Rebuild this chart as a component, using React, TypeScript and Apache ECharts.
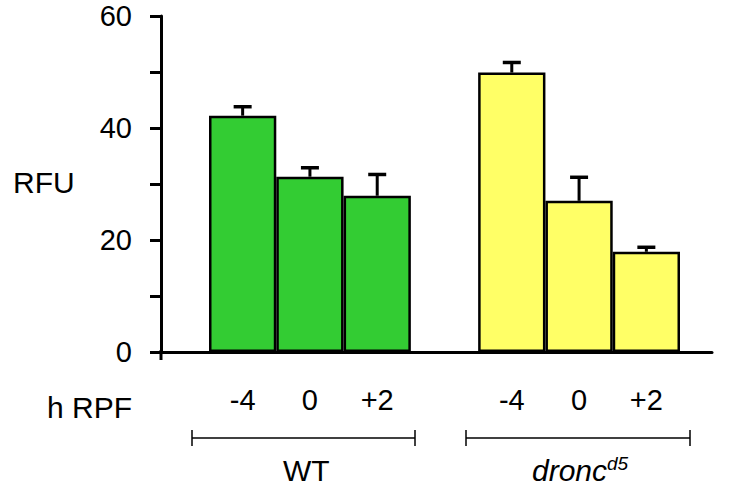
import React, { useEffect, useRef } from "react";
import * as echarts from "echarts";

const categories = ["-4", "0", "+2", "", "-4", "0", "+2"];
const rfuValues: (number | null)[] = [42.2, 31.3, 27.9, null, 49.9, 27.0, 17.9];
const errValues: (number | null)[] = [1.6, 1.6, 3.8, null, 1.8, 4.2, 0.8];
const groupOfBar = [0, 0, 0, -1, 1, 1, 1];
const groupColors = ["#33CC33", "#FFFF66"];
const yTicks = [0, 20, 40, 60];

const FONT = "'Liberation Sans', Arial, Helvetica, sans-serif";

export default function App() {
  const ref = useRef<HTMLDivElement>(null);

  useEffect(() => {
    if (!ref.current) return;
    const chart = echarts.init(ref.current, null, { renderer: "svg" });

    const barData = rfuValues.map((v, i) =>
      v == null
        ? "-"
        : {
            value: v,
            itemStyle: { color: groupColors[groupOfBar[i]] },
          }
    );
    const errData = rfuValues.map((v, i) =>
      v == null || errValues[i] == null ? [i, "-", "-"] : [i, v, v + (errValues[i] as number)]
    );

    const option: any = {
      animation: false,
      backgroundColor: "#ffffff",
      grid: [
        { left: 209, right: 50, top: 16, bottom: 141 },
        { left: 161, right: 18, top: 16, bottom: 141 },
      ],
      xAxis: [
        {
          type: "category",
          gridIndex: 0,
          data: categories,
          axisLine: { show: false },
          axisTick: { show: false },
          axisLabel: {
            show: true,
            margin: 33,
            fontSize: 29,
            color: "#000",
            fontFamily: FONT,
          },
        },
        {
          type: "value",
          gridIndex: 1,
          min: 0,
          max: 1,
          axisLine: { show: true, lineStyle: { color: "#000", width: 3 } },
          axisTick: { show: false },
          axisLabel: { show: false },
          splitLine: { show: false },
        },
      ],
      yAxis: [
        {
          type: "value",
          gridIndex: 0,
          min: 0,
          max: 60,
          interval: 10,
          offset: 48,
          axisLine: { show: true, lineStyle: { color: "#000", width: 3 } },
          axisTick: { show: true, length: 11, lineStyle: { color: "#000", width: 3 } },
          axisLabel: {
            margin: 29,
            fontSize: 29,
            color: "#000",
            fontFamily: FONT,
            formatter: (v: number) => (yTicks.includes(v) ? String(v) : ""),
          },
          splitLine: { show: false },
        },
        {
          type: "value",
          gridIndex: 1,
          min: 0,
          max: 1,
          show: false,
        },
      ],
      series: [
        {
          type: "bar",
          xAxisIndex: 0,
          yAxisIndex: 0,
          data: barData,
          barCategoryGap: 0,
          barWidth: "100%",
          itemStyle: { borderColor: "#000", borderWidth: 2.5 },
          z: 2,
        },
        {
          type: "custom",
          xAxisIndex: 0,
          yAxisIndex: 0,
          data: errData,
          z: 1,
          renderItem: (params: any, api: any) => {
            const v = api.value(1);
            const top = api.value(2);
            if (isNaN(v) || isNaN(top)) return null;
            const base = api.coord([api.value(0), v]);
            const hi = api.coord([api.value(0), top]);
            const half = 9;
            return {
              type: "group",
              children: [
                {
                  type: "line",
                  shape: { x1: base[0], y1: base[1], x2: hi[0], y2: hi[1] },
                  style: { stroke: "#000", lineWidth: 3 },
                },
                {
                  type: "line",
                  shape: { x1: hi[0] - half, y1: hi[1], x2: hi[0] + half, y2: hi[1] },
                  style: { stroke: "#000", lineWidth: 3.5 },
                },
              ],
            };
          },
        },
      ],
      graphic: [
        {
          type: "line",
          shape: { x1: 161, y1: 350, x2: 161, y2: 360 },
          style: { stroke: "#000", lineWidth: 3 },
        },
        {
          type: "text",
          left: 13,
          top: 167,
          style: { text: "RFU", fontSize: 30, fill: "#000", fontFamily: FONT },
        },
        {
          type: "text",
          left: 47,
          top: 392,
          style: { text: "h RPF", fontSize: 30, fill: "#000", fontFamily: FONT },
        },
        // WT bracket
        { type: "line", shape: { x1: 192, y1: 438, x2: 415, y2: 438 }, style: { stroke: "#000", lineWidth: 1.5 } },
        { type: "line", shape: { x1: 192, y1: 430, x2: 192, y2: 446 }, style: { stroke: "#000", lineWidth: 1.5 } },
        { type: "line", shape: { x1: 415, y1: 430, x2: 415, y2: 446 }, style: { stroke: "#000", lineWidth: 1.5 } },
        // dronc bracket
        { type: "line", shape: { x1: 466, y1: 438, x2: 690, y2: 438 }, style: { stroke: "#000", lineWidth: 1.5 } },
        { type: "line", shape: { x1: 466, y1: 430, x2: 466, y2: 446 }, style: { stroke: "#000", lineWidth: 1.5 } },
        { type: "line", shape: { x1: 690, y1: 430, x2: 690, y2: 446 }, style: { stroke: "#000", lineWidth: 1.5 } },
        {
          type: "text",
          left: 283,
          top: 455,
          style: { text: "WT", fontSize: 30, fill: "#000", fontFamily: FONT },
        },
        {
          type: "text",
          left: 532,
          top: 455,
          style: { text: "dronc", fontSize: 30, fontStyle: "italic", fill: "#000", fontFamily: FONT },
        },
        {
          type: "text",
          left: 607,
          top: 454,
          style: { text: "d5", fontSize: 19, fontStyle: "italic", fill: "#000", fontFamily: FONT },
        },
      ],
    };

    chart.setOption(option);
    return () => chart.dispose();
  }, []);

  return (
    <div
      ref={ref}
      style={{ position: "fixed", left: 0, top: 0, width: 730, height: 493 }}
    />
  );
}
